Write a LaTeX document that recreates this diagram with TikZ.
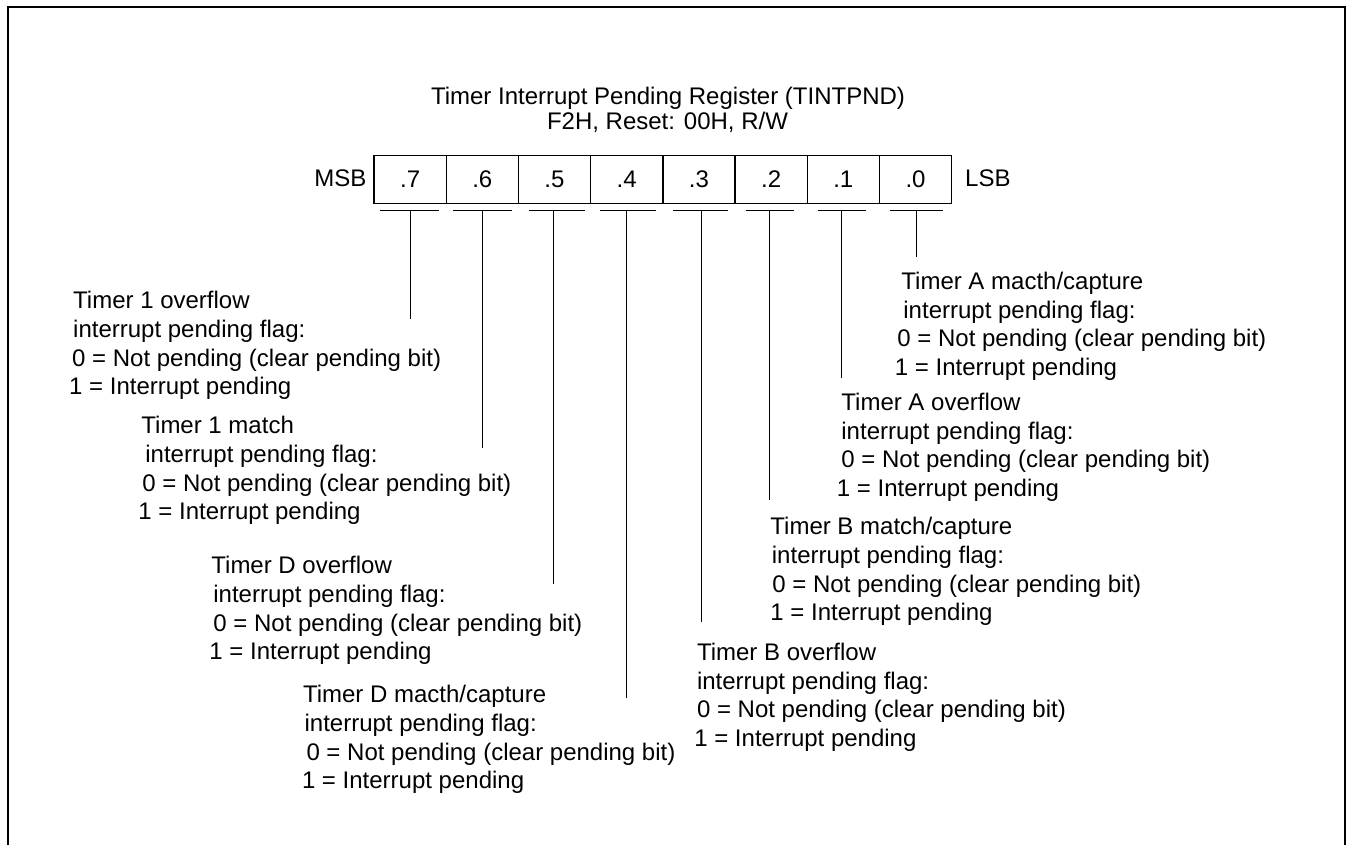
\documentclass[tikz,border=0pt]{standalone}
\usepackage{fontspec}
\setmainfont{Liberation Sans}
\begin{document}
\begin{tikzpicture}[x=1pt,y=-1pt,
  frame/.style={line width=2pt},
  cell/.style={draw,line width=1.4pt,minimum width=72.2pt,minimum height=48pt,inner sep=0pt,font=\fontsize{24}{28.7}\selectfont},
  lbl/.style={inner sep=0pt,font=\fontsize{24}{28.7}\selectfont},
  desc/.style={anchor=base west,align=left,inner sep=0pt,font=\fontsize{24}{28.7}\selectfont,yshift=-94.7pt},
  tick/.style={line width=1.2pt},
  lead/.style={line width=1.2pt}]
\useasboundingbox (0,0) rectangle (1346,845);
% frame
\draw[frame] (7.5,850) -- (7.5,7) -- (1345,7) -- (1345,850);
% title
\node[lbl,anchor=base] (title) at (668,105) {Timer Interrupt Pending Register (TINTPND)};
\node[lbl,anchor=base] (sub) at (667.5,129.3) {F2H, Reset: 00H, R/W};
% register cells
\node[cell] (c7) at (410.1,179.3) {.7};
\node[cell] (c6) at (482.3,179.3) {.6};
\node[cell] (c5) at (554.5,179.3) {.5};
\node[cell] (c4) at (626.7,179.3) {.4};
\node[cell] (c3) at (698.9,179.3) {.3};
\node[cell] (c2) at (771.1,179.3) {.2};
\node[cell] (c1) at (843.3,179.3) {.1};
\node[cell] (c0) at (915.5,179.3) {.0};
\node[lbl,anchor=base east] (msb) at (366.5,186.7) {MSB};
\node[lbl,anchor=base west] (lsb) at (965,186.7) {LSB};
% underline points
\coordinate (u7) at (410.8,210.3);
\coordinate (u6) at (482.2,210.3);
\coordinate (u5) at (553.5,210.3);
\coordinate (u4) at (626.4,210.3);
\coordinate (u3) at (701.8,210.3);
\coordinate (u2) at (769.8,210.3);
\coordinate (u1) at (841.8,210.3);
\coordinate (u0) at (916.6,210.3);
\draw[tick] (409.9,210.3) ++(-29.5,0) -- ++(59,0);
\draw[tick] (482.5,210.3) ++(-29.7,0) -- ++(59.4,0);
\draw[tick] (556.8,210.3) ++(-28.1,0) -- ++(56.2,0);
\draw[tick] (628.2,210.3) ++(-28.1,0) -- ++(56.2,0);
\draw[tick] (700.3,210.3) ++(-27.5,0) -- ++(55,0);
\draw[tick] (769.5,210.3) ++(-24,0) -- ++(48,0);
\draw[tick] (841.8,210.3) ++(-24,0) -- ++(48,0);
\draw[tick] (916.6,210.3) ++(-26.4,0) -- ++(52.8,0);
% leader ends
\coordinate (e7) at (410.8,319.3);
\coordinate (e6) at (482.2,448.3);
\coordinate (e5) at (553.5,584);
\coordinate (e4) at (626.4,698.3);
\coordinate (e3) at (701.8,621.7);
\coordinate (e2) at (769.8,500);
\coordinate (e1) at (841.8,378.3);
\coordinate (e0) at (916.6,257.3);
\foreach \b in {7,6,5,4,3,2,1,0} {\draw[lead] (u\b) -- (e\b);}
% descriptions
\node[desc] (d7) at (73,300) {Timer 1 overflow\\interrupt pending flag:\\\hspace*{-1pt}0 = Not pending (clear pending bit)\\\hspace*{-4pt}1 = Interrupt pending};
\node[desc] (d6) at (141.2,425) {Timer 1 match\\\hspace*{4pt}interrupt pending flag:\\\hspace*{1pt}0 = Not pending (clear pending bit)\\\hspace*{-3pt}1 = Interrupt pending};
\node[desc] (d5) at (211.2,565) {Timer D overflow\\\hspace*{2pt}interrupt pending flag:\\\hspace*{2pt}0 = Not pending (clear pending bit)\\\hspace*{-2pt}1 = Interrupt pending};
\node[desc] (d4) at (302.8,694) {Timer D macth/capture\\\hspace*{1.6pt}interrupt pending flag:\\\hspace*{3.5pt}0 = Not pending (clear pending bit)\\\hspace*{-1pt}1 = Interrupt pending};
\node[desc] (d3) at (696.8,651.7) {Timer B overflow\\interrupt pending flag:\\0 = Not pending (clear pending bit)\\\hspace*{-2.7pt}1 = Interrupt pending};
\node[desc] (d2) at (770.2,526) {Timer B match/capture\\\hspace*{1.5pt}interrupt pending flag:\\\hspace*{2pt}0 = Not pending (clear pending bit)\\1 = Interrupt pending};
\node[desc] (d1) at (841.2,401.7) {Timer A overflow\\interrupt pending flag:\\0 = Not pending (clear pending bit)\\\hspace*{-4.5pt}1 = Interrupt pending};
\node[desc] (d0) at (901.2,280.7) {Timer A macth/capture\\\hspace*{2pt}interrupt pending flag:\\\hspace*{-4pt}0 = Not pending (clear pending bit)\\\hspace*{-6.5pt}1 = Interrupt pending};
\end{tikzpicture}
\end{document}
